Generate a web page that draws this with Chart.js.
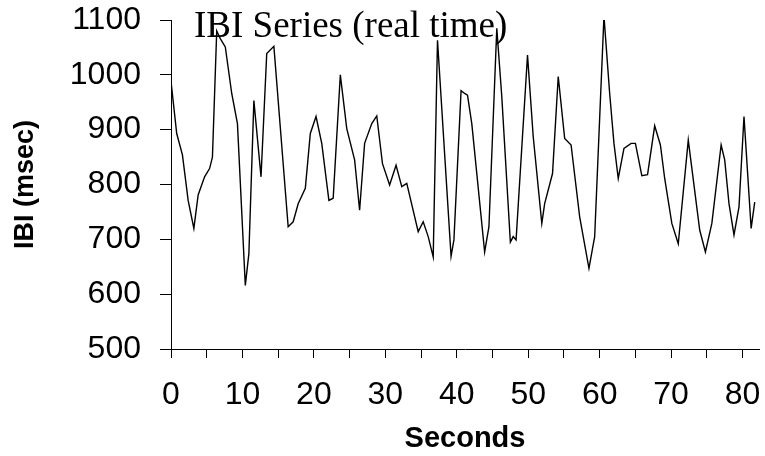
<!DOCTYPE html>
<html>
<head>
<meta charset="utf-8">
<script src="https://cdn.jsdelivr.net/npm/chart.js@4.4.1/dist/chart.umd.min.js"></script>
<style>
  body { margin: 0; background: #fff; }
</style>
</head>
<body>
<canvas id="ibi-chart" width="765" height="456"></canvas>
<script>
// IBI series
const chartTitle = 'IBI Series (real time)';

const seconds = [
  0.0, 0.8, 1.6, 2.4, 3.2, 3.8, 4.7, 5.4, 5.8, 6.4, 6.9, 7.6, 8.5, 9.3,
  10.4, 10.9, 11.6, 12.6, 13.4, 14.4, 16.4, 17.1, 17.8, 18.8, 19.5, 20.3,
  21.1, 22.1, 22.7, 23.7, 24.6, 25.7, 26.4, 27.1, 28.1, 28.8, 29.6, 30.6,
  31.5, 32.3, 33.0, 34.6, 35.3, 36.0, 36.7, 37.3, 39.2, 39.6, 40.6, 41.1,
  41.5, 42.1, 43.9, 44.5, 45.6, 46.3, 47.5, 47.9, 48.3, 49.9, 50.7, 51.9,
  52.3, 53.4, 54.2, 55.1, 56.0, 57.2, 58.5, 59.3, 60.6, 61.4, 62.0, 62.6,
  63.4, 64.4, 65.0, 65.9, 66.7, 67.7, 68.5, 69.1, 70.1, 71.0, 72.4, 74.0,
  74.8, 75.7, 77.0, 77.5, 78.1, 78.8, 79.5, 80.2, 81.2, 81.7
];

const ibi = [
  988, 893, 854, 771, 720, 781, 814, 829, 850, 1080, 1066, 1051, 966, 911,
  616, 674, 953, 814, 1039, 1052, 723, 732, 765, 793, 893, 924,
  875, 771, 775, 1000, 902, 845, 753, 875, 911, 925, 838, 799,
  835, 796, 802, 714, 732, 705, 668, 1063, 669, 699, 971, 966,
  963, 911, 677, 723, 1085, 960, 695, 705, 699, 1036, 887, 729,
  765, 820, 997, 884, 872, 741, 647, 705, 1107, 966, 875, 811,
  866, 875, 875, 816, 818, 907, 872, 811, 729, 692, 881, 717,
  677, 729, 872, 845, 765, 708, 759, 924, 720, 768
];

const yTicks = { min: 500, max: 1100, step: 100 };
const xTicks = { min: 0, max: 82.3, step: 5, labelEvery: 10 };

const points = seconds.map((s, i) => ({ x: s, y: ibi[i] }));

// title sits inside the plot, over the line
const plotTitle = {
  id: 'plotTitle',
  afterDatasetsDraw(chart) {
    const { ctx, chartArea } = chart;
    ctx.save();
    ctx.font = '37px "Liberation Serif", "Times New Roman", serif';
    ctx.fillStyle = '#000';
    ctx.textAlign = 'left';
    ctx.textBaseline = 'alphabetic';
    ctx.fillText(chartTitle, chartArea.left + 23, chartArea.top + 17);
    ctx.restore();
  }
};

const sans = '"Liberation Sans", Arial, sans-serif';

new Chart(document.getElementById('ibi-chart').getContext('2d'), {
  type: 'line',
  data: {
    datasets: [{
      label: 'IBI',
      data: points,
      borderColor: '#000',
      borderWidth: 1.4,
      pointRadius: 0,
      tension: 0,
      fill: false
    }]
  },
  options: {
    responsive: false,
    animation: false,
    layout: { padding: { left: 9, right: 6, top: 20, bottom: 0 } },
    plugins: {
      legend: { display: false },
      tooltip: { enabled: false }
    },
    scales: {
      x: {
        type: 'linear',
        min: xTicks.min,
        max: xTicks.max,
        border: { display: true, color: '#000', width: 1 },
        grid: { drawOnChartArea: false, drawTicks: true, tickLength: 9, color: '#000' },
        ticks: {
          stepSize: xTicks.step,
          includeBounds: false,
          autoSkip: false,
          maxRotation: 0,
          padding: 18,
          color: '#000',
          font: { family: sans, size: 32 },
          callback: v => (v % xTicks.labelEvery === 0 ? String(v) : '')
        },
        title: {
          display: true,
          text: 'Seconds',
          color: '#000',
          padding: 0,
          font: { family: sans, size: 29, weight: 'bold' }
        },
        afterFit: scale => {
          scale.height = 107;
          scale.paddingLeft = 0;
          scale.paddingRight = 0;
        }
      },
      y: {
        min: yTicks.min,
        max: yTicks.max,
        border: { display: true, color: '#000', width: 1 },
        grid: { drawOnChartArea: false, drawTicks: true, tickLength: 11, color: '#000' },
        ticks: {
          stepSize: yTicks.step,
          padding: 19,
          color: '#000',
          font: { family: sans, size: 32 },
          callback: v => String(v)
        },
        title: {
          display: true,
          text: 'IBI (msec)',
          color: '#000',
          padding: 0,
          font: { family: sans, size: 27, weight: 'bold' }
        },
        afterFit: scale => {
          scale.width = 162;
          scale.paddingTop = 0;
          scale.paddingBottom = 0;
        }
      }
    }
  },
  plugins: [plotTitle]
});
</script>
</body>
</html>
